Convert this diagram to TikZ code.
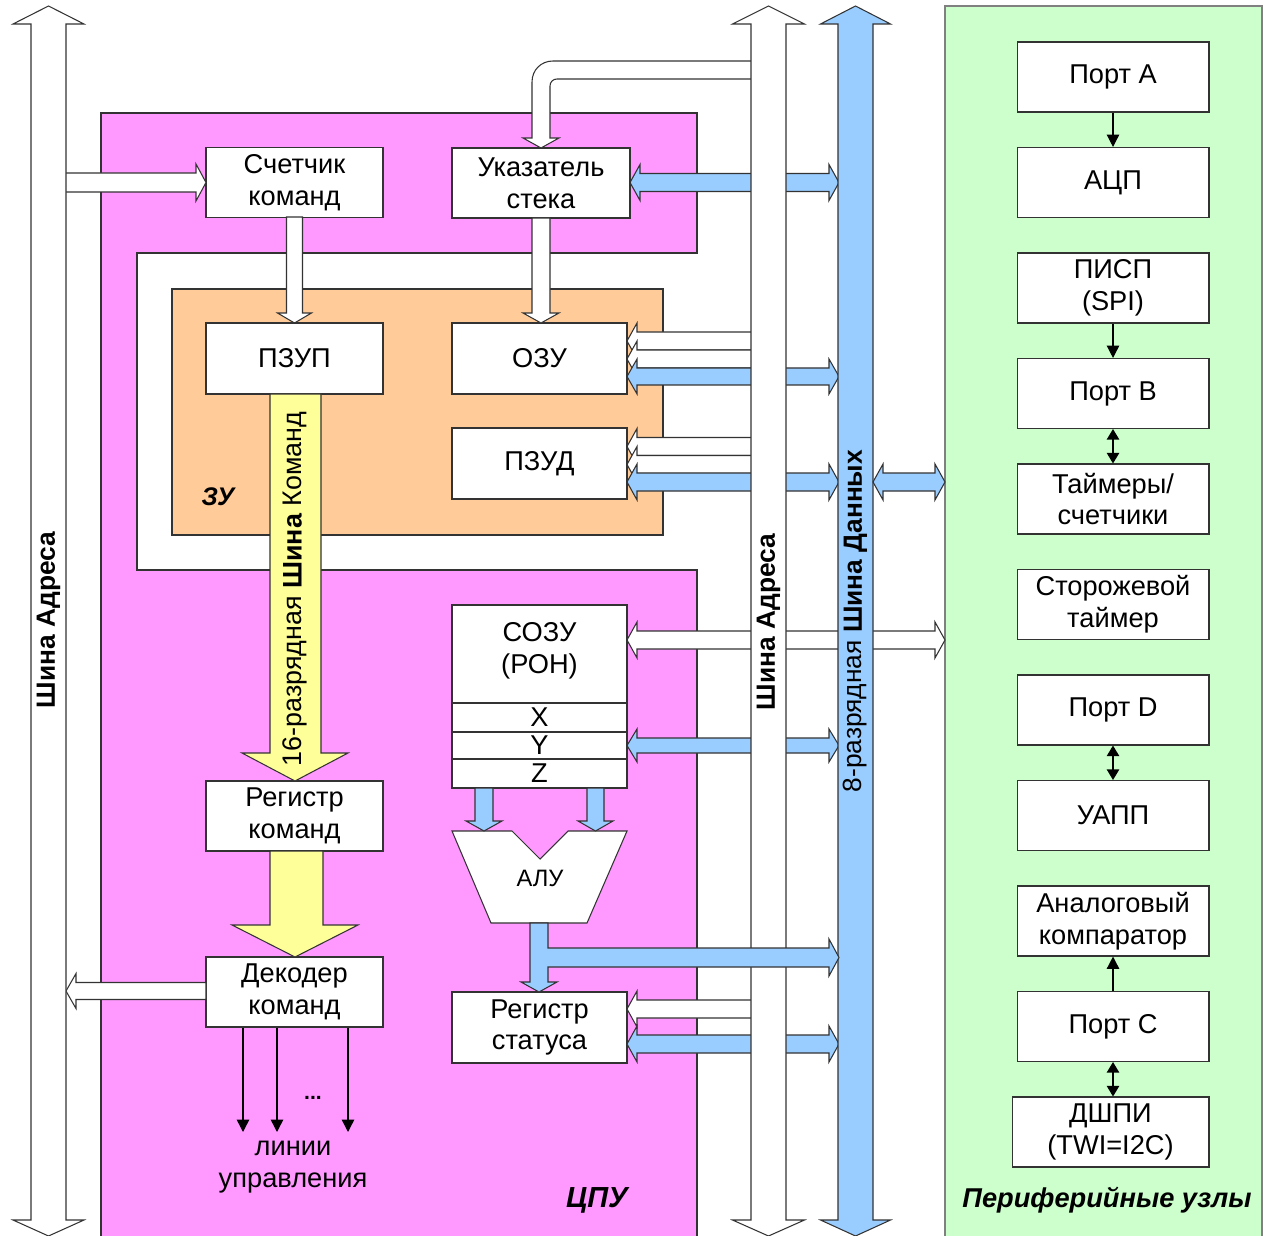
\documentclass[tikz,border=0pt]{standalone}
\usepackage{fontspec}
\setmainfont{Liberation Sans}
\usetikzlibrary{arrows.meta}
\definecolor{cpu}{HTML}{FF99FF}
\definecolor{zu}{HTML}{FFCC99}
\definecolor{per}{HTML}{CCFFCC}
\definecolor{dbus}{HTML}{99CCFF}
\definecolor{ybus}{HTML}{FFFF99}
\definecolor{edge}{HTML}{333333}
\tikzset{
 outl/.style={draw=edge, line width=0.6pt, line join=miter},
 blk/.style={outl, fill=white, align=center, inner sep=0pt, font=\fontsize{15.5}{18}\selectfont, minimum height=1.4cm, minimum width=3.54cm},
 pblk/.style={blk, minimum width=3.84cm},
 thinarr/.style={draw=black, line width=0.8pt, -{Triangle[length=7pt,width=7pt]}},
 thinarrs/.style={draw=black, line width=0.8pt, {Triangle[length=6pt,width=7pt]}-{Triangle[length=6pt,width=7pt]}},
 buslabel/.style={rotate=90, font=\fontsize{15}{16}\selectfont\bfseries},
 txt/.style={font=\fontsize{15.5}{18}\selectfont, align=center, inner sep=0pt},
 bitxt/.style={font=\fontsize{15.5}{18}\selectfont\bfseries\itshape, inner sep=0pt},
}
% block arrows: fill, tip x, tail x, y centre, half shaft width
\newcommand\arrL[5]{\pgfmathsetmacro\myhh{#5+9}%
 \filldraw[fill=#1,outl] (#2,#4) -- ++(10,-\myhh) -- ++(0,\myhh-#5) -- (#3,#4-#5) -- (#3,#4+#5) -- (#2+10,#4+#5) -- ++(0,\myhh-#5) -- cycle;}
\newcommand\arrR[5]{\pgfmathsetmacro\myhh{#5+9}%
 \filldraw[fill=#1,outl] (#2,#4) -- ++(-10,-\myhh) -- ++(0,\myhh-#5) -- (#3,#4-#5) -- (#3,#4+#5) -- (#2-10,#4+#5) -- ++(0,\myhh-#5) -- cycle;}
\newcommand\arrLR[5]{\pgfmathsetmacro\myhh{#5+9}%
 \filldraw[fill=#1,outl] (#2,#4) -- ++(10,-\myhh) -- ++(0,\myhh-#5) -- (#3-10,#4-#5) -- ++(0,#5-\myhh) -- (#3,#4) -- (#3-10,#4+\myhh) -- ++(0,#5-\myhh) -- (#2+10,#4+#5) -- ++(0,\myhh-#5) -- cycle;}
% fill, tip y, tail y, x centre, half width
\newcommand\arrD[5]{\pgfmathsetmacro\myhh{#5+9}%
 \filldraw[fill=#1,outl] (#4,#2) -- ++(-\myhh,-10) -- ++(\myhh-#5,0) -- (#4-#5,#3) -- (#4+#5,#3) -- (#4+#5,#2-10) -- ++(\myhh-#5,0) -- cycle;}
% vertical bus: fill, x left, x right, head half width
\newcommand\vbus[4]{\pgfmathsetmacro\myxc{(#2+#3)/2}%
 \filldraw[fill=#1,outl] (\myxc,6) -- (\myxc+#4,24) -- (#3,24) -- (#3,1220) -- (\myxc+#4,1220) -- (\myxc,1236) -- (\myxc-#4,1220) -- (#2,1220) -- (#2,24) -- (\myxc-#4,24) -- cycle;}
\begin{document}
\begin{tikzpicture}[x=0.02cm,y=-0.02cm]
\useasboundingbox (0,0) rectangle (1270,1236);
\fill[white] (0,0) rectangle (1270,1236);
% regions
\filldraw[fill=cpu,outl] (101,113) -- (697,113) -- (697,253) -- (137,253) -- (137,570) -- (697,570) -- (697,1240) -- (101,1240) -- cycle;
\filldraw[fill=zu,outl] (172,289) rectangle (663,535);
\filldraw[fill=per,draw=gray,line width=0.6pt] (945,6) rectangle (1262,1240);
% CPU boxes
\node[blk] (cnt) at (294.5,182.5) {Счетчик\\команд};
\node[blk, minimum width=3.56cm] (sp) at (541,183) {Указатель\\стека};
\node[blk, minimum height=1.42cm] (pzup) at (294.5,358.5) {ПЗУП};
\node[blk, minimum width=3.5cm, minimum height=1.42cm] (ozu) at (539.5,358.5) {ОЗУ};
\node[blk, minimum width=3.5cm, minimum height=1.42cm] (pzud) at (539.5,463.5) {ПЗУД};
\node[outl, fill=white, minimum width=3.5cm, minimum height=3.66cm, inner sep=0pt] (sozu) at (539.5,696.5) {};
\draw[outl] (452,703) -- (627,703) (452,732) -- (627,732) (452,759) -- (627,759);
\node[txt] (sozut) at (539.5,651) {СОЗУ\\(РОН)};
\node[txt] (rx) at (539.5,717.5) {X};
\node[txt] (ry) at (539.5,745.5) {Y};
\node[txt] (rz) at (539.5,773.5) {Z};
\filldraw[fill=white,outl] (452,831) -- (512,831) -- (540,859) -- (568,831) -- (627,831) -- (587,923) -- (491,923) -- cycle;
\node[txt, font=\fontsize{13.5}{16}\selectfont] (alu) at (540,878) {АЛУ};
\node[blk, minimum width=3.5cm, minimum height=1.42cm] (sr) at (539.5,1027.5) {Регистр\\статуса};
\node[blk] (rk) at (294.5,816) {Регистр\\команд};
\node[blk] (dk) at (294.5,992) {Декодер\\команд};
% peripheral boxes
\node[pblk] (pA) at (1113,77) {Порт A};
\node[pblk] (adc) at (1113,182.5) {АЦП};
\node[pblk] (spi) at (1113,288) {ПИСП\\(SPI)};
\node[pblk] (pB) at (1113,393.5) {Порт B};
\node[pblk] (tmr) at (1113,499) {Таймеры/\\счетчики};
\node[pblk] (wdt) at (1113,604.5) {Сторожевой\\таймер};
\node[pblk] (pD) at (1113,710) {Порт D};
\node[pblk] (uart) at (1113,815.5) {УАПП};
\node[pblk] (ac) at (1113,921) {Аналоговый\\компаратор};
\node[pblk] (pC) at (1113,1026.5) {Порт C};
\node[pblk, minimum width=3.94cm] (twi) at (1110.5,1132) {ДШПИ\\(TWI=I2C)};
\draw[thinarr] (pA.south) -- (adc.north);
\draw[thinarr] (spi.south) -- (pB.north);
\draw[thinarrs] (pB.south) -- (tmr.north);
\draw[thinarrs] (pD.south) -- (uart.north);
\draw[thinarr] (pC.north) -- (ac.south);
\draw[thinarrs] (pC.south) -- (pC.south |- twi.north);
% arrows behind the buses
\arrLR{white}{627}{945}{640}{9}
\filldraw[fill=white,outl] (760,61) -- (553,61) .. controls (541,61) and (532,70) .. (532,82) -- (532,138) -- (523,138) -- (541,148) -- (559,138) -- (550,138) -- (550,86) .. controls (550,82) and (553,79) .. (557,79) -- (760,79) -- cycle;
\arrR{white}{206}{60}{182.5}{9.5}
\arrD{white}{323}{217}{294.5}{8}
\arrD{white}{323}{218}{541}{9}
\arrL{white}{627}{760}{341}{9}
\arrL{white}{627}{760}{359}{9}
\arrL{white}{627}{760}{446.5}{9}
\arrL{white}{627}{760}{464.5}{9}
\arrL{white}{627}{760}{1009}{9}
\arrL{white}{66}{206}{991}{8.5}
\arrLR{dbus}{630}{839}{182.5}{9}
\arrLR{dbus}{627}{839}{376.5}{8.5}
\arrLR{dbus}{627}{839}{482}{9}
\arrLR{dbus}{627}{839}{745.5}{7.5}
\arrLR{dbus}{627}{839}{1044}{9}
\arrD{dbus}{831}{788}{484}{9}
\arrD{dbus}{831}{788}{595.5}{8.5}
% yellow instruction bus
\filldraw[fill=ybus,outl] (270,394) -- (321,394) -- (321,753) -- (348,753) -- (295,781) -- (242,753) -- (270,753) -- cycle;
\filldraw[fill=ybus,outl] (270,851) -- (323,851) -- (323,925) -- (358,925) -- (295,957) -- (232,925) -- (270,925) -- cycle;
\node[rotate=90, font=\fontsize{15.3}{16}\selectfont, inner sep=0pt] (cmdlab) at (295,589) {16-разрядная \textbf{Шина} Команд};
% buses
\vbus{dbus}{838}{873}{35}
\vbus{white}{31}{66}{35.5}
\vbus{white}{751}{786}{36}
\node[buslabel, inner sep=0pt] (lab1) at (48.5,620) {Шина Адреса};
\node[buslabel, inner sep=0pt] (lab2) at (768.5,622) {Шина Адреса};
\node[rotate=90, font=\fontsize{15}{16}\selectfont, inner sep=0pt] (lab3) at (855.5,621) {8-разрядная \textbf{Шина Данных}};
% arrows on top
\filldraw[fill=dbus,outl] (530,923) -- (548,923) -- (548,948) -- (829,948) -- (829,939) -- (839,957.5) -- (829,976) -- (829,967) -- (548,967) -- (548,982) -- (557,982) -- (539,992) -- (521,982) -- (530,982) -- cycle;
\arrLR{dbus}{873}{945}{482}{9}
% control lines
\coordinate (c1) at (243,1132);
\coordinate (c2) at (277,1132);
\coordinate (c3) at (348,1132);
\draw[thinarr] (dk.south -| c1) -- (c1);
\draw[thinarr] (dk.south -| c2) -- (c2);
\draw[thinarr] (dk.south -| c3) -- (c3);
\node[font=\fontsize{12}{14}\selectfont\bfseries, inner sep=0pt] (dots) at (313,1098) {...};
\node[txt] (lines) at (293,1167) {линии\\управления};
% region labels
\node[bitxt, font=\fontsize{14.5}{16}\selectfont\bfseries\itshape] (zul) at (218,497) {ЗУ};
\node[bitxt, font=\fontsize{16.5}{18}\selectfont\bfseries\itshape] (cpul) at (597,1200) {ЦПУ};
\node[bitxt] (perl) at (1107,1200) {Периферийные узлы};
\end{tikzpicture}
\end{document}
